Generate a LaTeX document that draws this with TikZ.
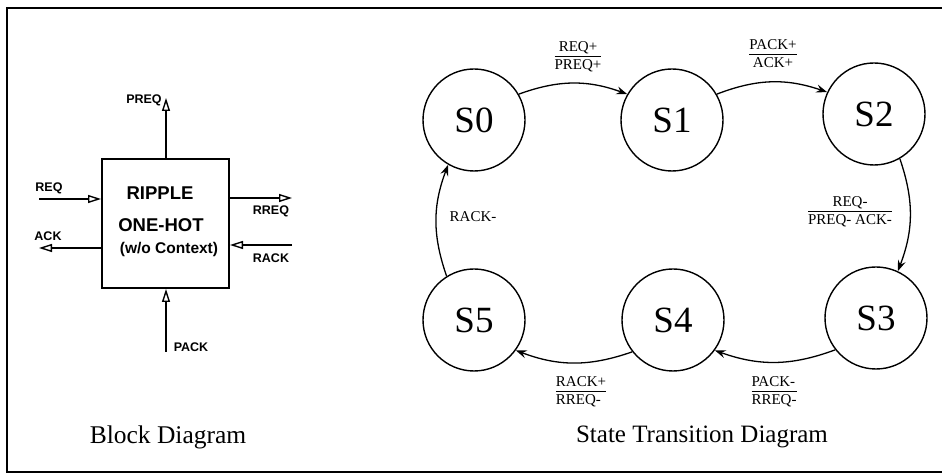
\documentclass[tikz,border=0pt]{standalone}
\usepackage{fontspec}
\setmainfont{Liberation Serif}
\newfontfamily\blkfont{Liberation Sans}
\usetikzlibrary{arrows.meta}
\tikzset{
  state/.style={circle, draw, line width=1.4pt, minimum size=102pt, inner sep=0pt,
    font=\fontsize{37}{40}\selectfont},
  trans/.style={line width=1.3pt, -{Stealth[length=11pt,width=8pt,inset=4pt]}},
  flab/.style={inner sep=0pt, font=\fontsize{15}{18}\selectfont},
  sig/.style={line width=1.6pt, -{Triangle[open,length=13pt,width=8pt,line width=1.4pt]}},
  siglab/.style={inner sep=0pt, font=\blkfont\bfseries\fontsize{12.5}{14}\selectfont},
  boxtxt/.style={inner sep=0pt, font=\blkfont\bfseries\fontsize{18.5}{22}\selectfont},
  caption/.style={inner sep=0pt, font=\fontsize{25.5}{30}\selectfont}
}
\newcommand{\fracC}[2]{\renewcommand{\arraystretch}{1.0}\setlength{\arrayrulewidth}{1pt}\begin{tabular}{@{}c@{}}#1\\[-1pt]\hline #2\end{tabular}}
\newcommand{\fracL}[2]{\renewcommand{\arraystretch}{1.0}\setlength{\arrayrulewidth}{1pt}\begin{tabular}{@{}l@{}}#1\\[-1pt]\hline #2\end{tabular}}
\begin{document}
\begin{tikzpicture}[x=1pt,y=1pt]
\useasboundingbox (0,0) rectangle (942,476);
% frame
\draw[line width=2pt] (942,468) -- (7,468) -- (7,4) -- (942,4);

% ---------- Block diagram ----------
\node[draw, line width=2pt, minimum width=127pt, minimum height=129pt, inner sep=0pt] (blk) at (165.5,252.5) {};
\node[boxtxt] (t1) at (160,283) {RIPPLE};
\node[boxtxt] (t2) at (161,251) {ONE-HOT};
\node[boxtxt, font=\blkfont\bfseries\fontsize{15.5}{18}\selectfont] (t3) at (169,227) {(w/o Context)};

\coordinate (preqE) at (166,378);
\coordinate (reqS) at (39,277);
\coordinate (ackE) at (39,228);
\coordinate (rreqE) at (292,278);
\coordinate (rackS) at (292,231);
\coordinate (packS) at (166,124);

\draw[sig] (blk.north -| preqE) -- (preqE);
\draw[sig] (reqS) -- (reqS -| blk.west);
\draw[sig] (ackE -| blk.west) -- (ackE);
\draw[sig] (rreqE -| blk.east) -- (rreqE);
\draw[sig] (rackS) -- (rackS -| blk.east);
\draw[sig] (packS) -- (packS |- blk.south);

\node[siglab] (lpreq) at (144,376) {PREQ};
\node[siglab] (lreq) at (49,288) {REQ};
\node[siglab] (lack) at (48,240) {ACK};
\node[siglab] (lrreq) at (271,265) {RREQ};
\node[siglab] (lrack) at (271,218) {RACK};
\node[siglab] (lpack) at (191,129) {PACK};

\node[caption] (cap1) at (168,39) {Block Diagram};

% ---------- State transition diagram ----------
\node[state] (S0) at (474,356) {S0};
\node[state] (S1) at (672,356) {S1};
\node[state] (S2) at (874,362) {S2};
\node[state] (S3) at (876,158) {S3};
\node[state] (S4) at (673,156) {S4};
\node[state] (S5) at (474,156) {S5};

\draw[trans] (S0.30) to[bend left=20] (S1.150);
\draw[trans] (S1.30) to[bend left=20] (S2.155);
\draw[trans] (S2.-60) to[bend left=20] (S3.65);
\draw[trans] (S3.-142) to[bend left=20] (S4.-36);
\draw[trans] (S4.-142) to[bend left=20] (S5.-36);
\draw[trans] (S5.122) to[bend left=20] (S0.-120);

\node[flab] (l01) at (578,419) {\fracC{REQ+}{PREQ+}};
\node[flab] (l12) at (773,421) {\fracC{PACK+}{ACK+}};
\node[flab] (l23) at (850,264) {\fracC{REQ-}{PREQ- ACK-}};
\node[flab] (l34) at (774,84) {\fracL{PACK-}{RREQ-}};
\node[flab] (l45) at (581,84) {\fracL{RACK+}{RREQ-}};
\node[flab] (l50) at (473,259) {RACK-};

\node[caption, font=\fontsize{25}{30}\selectfont] (cap2) at (702,39) {State Transition Diagram};
\end{tikzpicture}
\end{document}
